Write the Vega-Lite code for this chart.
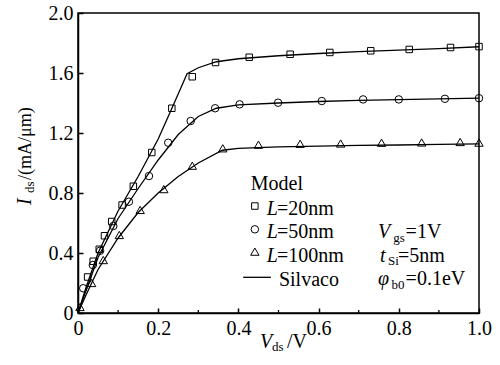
{
  "$schema": "https://vega.github.io/schema/vega-lite/v6.json",
  "width": 401,
  "height": 300,
  "autosize": {"type": "none"},
  "padding": {"left": 78, "top": 13, "right": 21, "bottom": 52},
  "background": "white",
  "config": {"view": {"stroke": "black", "strokeWidth": 1.5}, "font": "Liberation Serif"},
  "datasets": {
    "model": [
      {"series": "L20", "v": 0.024, "I": 0.24}, {"series": "L20", "v": 0.038, "I": 0.345}, {"series": "L20", "v": 0.053, "I": 0.425},
      {"series": "L20", "v": 0.066, "I": 0.515}, {"series": "L20", "v": 0.084, "I": 0.61}, {"series": "L20", "v": 0.11, "I": 0.72},
      {"series": "L20", "v": 0.138, "I": 0.845}, {"series": "L20", "v": 0.184, "I": 1.07}, {"series": "L20", "v": 0.234, "I": 1.365},
      {"series": "L20", "v": 0.285, "I": 1.575}, {"series": "L20", "v": 0.343, "I": 1.67}, {"series": "L20", "v": 0.427, "I": 1.705},
      {"series": "L20", "v": 0.529, "I": 1.725}, {"series": "L20", "v": 0.628, "I": 1.737}, {"series": "L20", "v": 0.73, "I": 1.748},
      {"series": "L20", "v": 0.826, "I": 1.757}, {"series": "L20", "v": 0.929, "I": 1.77}, {"series": "L20", "v": 1.0, "I": 1.776},
      {"series": "L50", "v": 0.013, "I": 0.165}, {"series": "L50", "v": 0.037, "I": 0.32}, {"series": "L50", "v": 0.055, "I": 0.415},
      {"series": "L50", "v": 0.088, "I": 0.58}, {"series": "L50", "v": 0.127, "I": 0.742}, {"series": "L50", "v": 0.177, "I": 0.913},
      {"series": "L50", "v": 0.225, "I": 1.135}, {"series": "L50", "v": 0.281, "I": 1.28}, {"series": "L50", "v": 0.342, "I": 1.365},
      {"series": "L50", "v": 0.403, "I": 1.391}, {"series": "L50", "v": 0.499, "I": 1.402}, {"series": "L50", "v": 0.608, "I": 1.413},
      {"series": "L50", "v": 0.711, "I": 1.424}, {"series": "L50", "v": 0.8, "I": 1.424}, {"series": "L50", "v": 0.915, "I": 1.428},
      {"series": "L50", "v": 1.0, "I": 1.432},
      {"series": "L100", "v": 0.005, "I": 0.04}, {"series": "L100", "v": 0.034, "I": 0.2}, {"series": "L100", "v": 0.063, "I": 0.353},
      {"series": "L100", "v": 0.103, "I": 0.52}, {"series": "L100", "v": 0.155, "I": 0.687}, {"series": "L100", "v": 0.214, "I": 0.826},
      {"series": "L100", "v": 0.285, "I": 0.982}, {"series": "L100", "v": 0.361, "I": 1.098}, {"series": "L100", "v": 0.45, "I": 1.122},
      {"series": "L100", "v": 0.554, "I": 1.128}, {"series": "L100", "v": 0.655, "I": 1.13}, {"series": "L100", "v": 0.757, "I": 1.135},
      {"series": "L100", "v": 0.857, "I": 1.137}, {"series": "L100", "v": 0.953, "I": 1.14}, {"series": "L100", "v": 1.0, "I": 1.136}
    ],
    "silvaco": [
      {"series": "L20", "v": 0, "I": 0}, {"series": "L20", "v": 0.02, "I": 0.17}, {"series": "L20", "v": 0.05, "I": 0.4},
      {"series": "L20", "v": 0.1, "I": 0.68}, {"series": "L20", "v": 0.15, "I": 0.91}, {"series": "L20", "v": 0.2, "I": 1.16},
      {"series": "L20", "v": 0.24, "I": 1.4}, {"series": "L20", "v": 0.272, "I": 1.595}, {"series": "L20", "v": 0.3, "I": 1.635},
      {"series": "L20", "v": 0.345, "I": 1.675}, {"series": "L20", "v": 0.4, "I": 1.695}, {"series": "L20", "v": 0.5, "I": 1.715},
      {"series": "L20", "v": 0.6, "I": 1.73}, {"series": "L20", "v": 0.7, "I": 1.742}, {"series": "L20", "v": 0.8, "I": 1.753},
      {"series": "L20", "v": 0.9, "I": 1.763}, {"series": "L20", "v": 1.0, "I": 1.775},
      {"series": "L50", "v": 0, "I": 0}, {"series": "L50", "v": 0.02, "I": 0.15}, {"series": "L50", "v": 0.05, "I": 0.37},
      {"series": "L50", "v": 0.1, "I": 0.63}, {"series": "L50", "v": 0.15, "I": 0.83}, {"series": "L50", "v": 0.2, "I": 1.02},
      {"series": "L50", "v": 0.25, "I": 1.19}, {"series": "L50", "v": 0.3, "I": 1.31}, {"series": "L50", "v": 0.345, "I": 1.365},
      {"series": "L50", "v": 0.4, "I": 1.388}, {"series": "L50", "v": 0.5, "I": 1.4}, {"series": "L50", "v": 0.6, "I": 1.41},
      {"series": "L50", "v": 0.7, "I": 1.417}, {"series": "L50", "v": 0.8, "I": 1.422}, {"series": "L50", "v": 0.9, "I": 1.427},
      {"series": "L50", "v": 1.0, "I": 1.432},
      {"series": "L100", "v": 0, "I": 0}, {"series": "L100", "v": 0.02, "I": 0.12}, {"series": "L100", "v": 0.05, "I": 0.29},
      {"series": "L100", "v": 0.1, "I": 0.5}, {"series": "L100", "v": 0.15, "I": 0.67}, {"series": "L100", "v": 0.2, "I": 0.8},
      {"series": "L100", "v": 0.25, "I": 0.91}, {"series": "L100", "v": 0.3, "I": 1.0}, {"series": "L100", "v": 0.36, "I": 1.085},
      {"series": "L100", "v": 0.4, "I": 1.098}, {"series": "L100", "v": 0.5, "I": 1.108}, {"series": "L100", "v": 0.6, "I": 1.113},
      {"series": "L100", "v": 0.7, "I": 1.118}, {"series": "L100", "v": 0.8, "I": 1.12}, {"series": "L100", "v": 0.9, "I": 1.124},
      {"series": "L100", "v": 1.0, "I": 1.128}
    ],
    "minorticks": [
      {"v": 0.1, "I": 0, "I2": 0.02}, {"v": 0.3, "I": 0, "I2": 0.02}, {"v": 0.5, "I": 0, "I2": 0.02},
      {"v": 0.7, "I": 0, "I2": 0.02}, {"v": 0.9, "I": 0, "I2": 0.02}
    ],
    "legsym": [
      {"series": "L20", "v": 0.441, "I": 0.713},
      {"series": "L50", "v": 0.441, "I": 0.558},
      {"series": "L100", "v": 0.441, "I": 0.409}
    ],
    "legline": [
      {"series": "leg", "v": 0.412, "I": 0.238},
      {"series": "leg", "v": 0.481, "I": 0.238}
    ],
    "roman20": [
      {"t": "Model", "v": 0.431, "I": 0.82},
      {"t": "=20nm", "v": 0.496, "I": 0.653},
      {"t": "=50nm", "v": 0.496, "I": 0.498},
      {"t": "=100nm", "v": 0.496, "I": 0.342},
      {"t": "Silvaco", "v": 0.501, "I": 0.18},
      {"t": "=1V", "v": 0.817, "I": 0.5},
      {"t": "=5nm", "v": 0.798, "I": 0.342},
      {"t": "=0.1eV", "v": 0.817, "I": 0.187},
      {"t": "/V", "v": 0.521, "I": -0.233}
    ],
    "italic20": [
      {"t": "L", "v": 0.471, "I": 0.653},
      {"t": "L", "v": 0.471, "I": 0.498},
      {"t": "L", "v": 0.471, "I": 0.342},
      {"t": "V", "v": 0.748, "I": 0.5},
      {"t": "t", "v": 0.753, "I": 0.342},
      {"t": "φ", "v": 0.748, "I": 0.187},
      {"t": "V", "v": 0.454, "I": -0.233}
    ],
    "sub13": [
      {"t": "gs", "v": 0.786, "I": 0.473},
      {"t": "Si", "v": 0.773, "I": 0.32},
      {"t": "b0", "v": 0.782, "I": 0.16},
      {"t": "ds", "v": 0.484, "I": -0.253}
    ],
    "ytitle_it": [{"t": "I", "v": -0.117, "I": 0.72}],
    "ytitle_sub": [{"t": "ds", "v": -0.11, "I": 0.8}],
    "ytitle_rom": [{"t": "/(mA/μm)", "v": -0.117, "I": 0.887}]
  },
  "encoding": {
    "x": {
      "field": "v", "type": "quantitative",
      "scale": {"domain": [0, 1], "nice": false, "zero": false},
      "axis": {
        "title": null, "values": [0, 0.2, 0.4, 0.6, 0.8, 1.0],
        "labelExpr": "datum.value == 0 ? '0' : format(datum.value, '.1f')",
        "grid": false, "tickSize": -5, "labelPadding": 10, "labelFlush": false,
        "domainColor": "black", "domainWidth": 1.5, "tickColor": "black", "tickWidth": 1.5,
        "labelFont": "Liberation Serif", "labelFontSize": 20, "labelColor": "black"
      }
    },
    "y": {
      "field": "I", "type": "quantitative",
      "scale": {"domain": [0, 2], "nice": false},
      "axis": {
        "title": null, "values": [0, 0.4, 0.8, 1.2, 1.6, 2.0],
        "labelExpr": "datum.value == 0 ? '0' : format(datum.value, '.1f')",
        "grid": false, "tickSize": -5, "labelPadding": 10, "labelFlush": false,
        "domainColor": "black", "domainWidth": 1.5, "tickColor": "black", "tickWidth": 1.5,
        "labelFont": "Liberation Serif", "labelFontSize": 20, "labelColor": "black"
      }
    }
  },
  "layer": [
    {
      "data": {"name": "silvaco"},
      "mark": {"type": "line", "color": "black", "strokeWidth": 1.3},
      "encoding": {"detail": {"field": "series"}}
    },
    {
      "data": {"name": "model"},
      "mark": {"type": "point", "filled": false, "color": "black", "strokeWidth": 1, "opacity": 1},
      "encoding": {
        "shape": {"field": "series", "type": "nominal", "legend": null,
          "scale": {"domain": ["L20", "L50", "L100"], "range": ["square", "circle", "triangle-up"]}},
        "size": {"field": "series", "type": "nominal", "legend": null,
          "scale": {"domain": ["L20", "L50", "L100"], "range": [42, 70, 55]}}
      }
    },
    {
      "data": {"name": "legsym"},
      "mark": {"type": "point", "filled": false, "color": "black", "strokeWidth": 1, "opacity": 1},
      "encoding": {
        "shape": {"field": "series", "type": "nominal", "legend": null},
        "size": {"field": "series", "type": "nominal", "legend": null}
      }
    },
    {
      "data": {"name": "legline"},
      "mark": {"type": "line", "color": "black", "strokeWidth": 1.3},
      "encoding": {}
    },
    {
      "data": {"name": "minorticks"},
      "mark": {"type": "rule", "color": "black", "strokeWidth": 1.3},
      "encoding": {"y2": {"field": "I2"}}
    },
    {
      "data": {"name": "roman20"},
      "mark": {"type": "text", "align": "left", "baseline": "alphabetic", "font": "Liberation Serif", "fontSize": 20, "color": "black"},
      "encoding": {"text": {"field": "t"}}
    },
    {
      "data": {"name": "italic20"},
      "mark": {"type": "text", "align": "left", "baseline": "alphabetic", "font": "Liberation Serif", "fontSize": 20, "fontStyle": "italic", "color": "black"},
      "encoding": {"text": {"field": "t"}}
    },
    {
      "data": {"name": "sub13"},
      "mark": {"type": "text", "align": "left", "baseline": "alphabetic", "font": "Liberation Serif", "fontSize": 13, "color": "black"},
      "encoding": {"text": {"field": "t"}}
    },
    {
      "data": {"name": "ytitle_it"},
      "mark": {"type": "text", "align": "left", "baseline": "alphabetic", "angle": 270, "font": "Liberation Serif", "fontSize": 20, "fontStyle": "italic", "color": "black"},
      "encoding": {"text": {"field": "t"}}
    },
    {
      "data": {"name": "ytitle_sub"},
      "mark": {"type": "text", "align": "left", "baseline": "alphabetic", "angle": 270, "font": "Liberation Serif", "fontSize": 13, "color": "black"},
      "encoding": {"text": {"field": "t"}}
    },
    {
      "data": {"name": "ytitle_rom"},
      "mark": {"type": "text", "align": "left", "baseline": "alphabetic", "angle": 270, "font": "Liberation Serif", "fontSize": 18, "color": "black"},
      "encoding": {"text": {"field": "t"}}
    }
  ]
}
